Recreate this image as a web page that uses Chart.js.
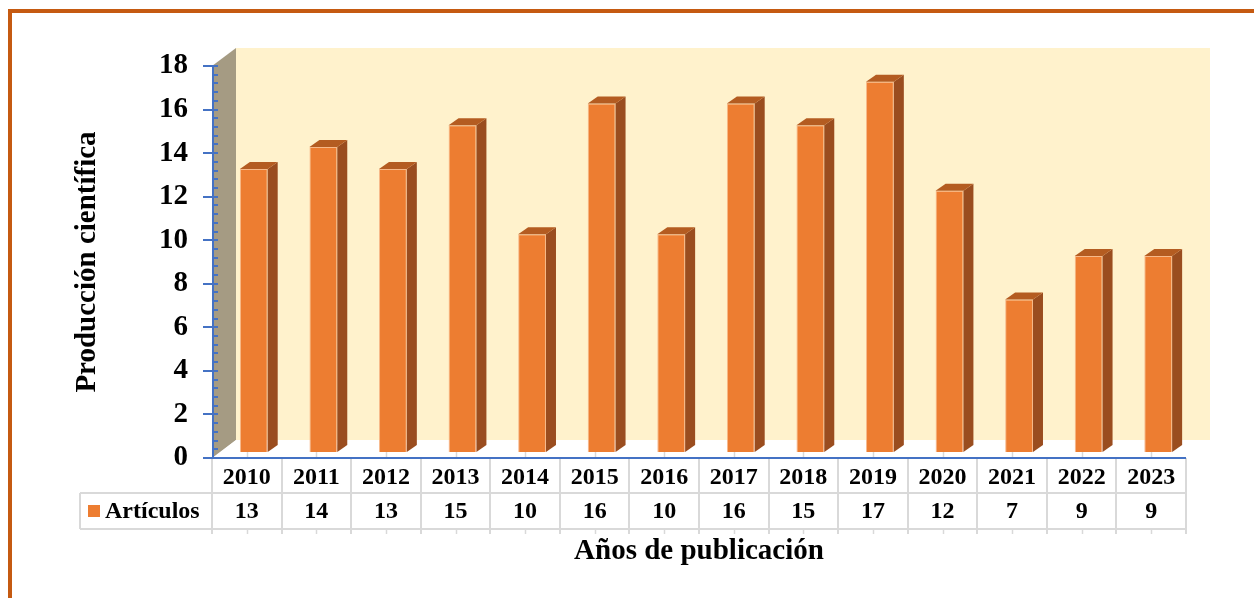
<!DOCTYPE html>
<html>
<head>
<meta charset="utf-8">
<script src="https://cdn.jsdelivr.net/npm/chart.js@4"></script>
<style>
  html, body { margin: 0; padding: 0; background: #ffffff; }
  canvas { display: block; }
</style>
</head>
<body>
<canvas id="c" width="1254" height="598"></canvas>
<script>
// ---- data ----
const years = ['2010','2011','2012','2013','2014','2015','2016','2017','2018','2019','2020','2021','2022','2023'];
const articulos = [13, 14, 13, 15, 10, 16, 10, 16, 15, 17, 12, 7, 9, 9];
const seriesName = 'Artículos';
const yTitle = 'Producción científica';
const xTitle = 'Años de publicación';
const yMin = 0, yMax = 18, yStep = 2, yMinorStep = 0.4;

// ---- style ----
const FONT = '"Liberation Serif", "Times New Roman", serif';
const C_FRONT = '#ED7D31', C_SIDE = '#9A4D1F', C_TOP = '#B45C21';
const C_BACK = '#FFF2CC', C_LEFTWALL = '#A59B83';
const C_AXIS = '#4472C4', C_GRID = '#D9D9D9', C_FRAME = '#C55A11';
const WALL_DX = 24, WALL_DY = -18;   // depth of the walls
const BAR_DX = 7, BAR_DY = -6;       // offset of bar front plane
const BAR_DEPTH_X = 10, BAR_DEPTH_Y = -7;

const plugin3d = {
  id: 'excel3d',
  beforeDraw(chart) {
    const ctx = chart.ctx, a = chart.chartArea;
    ctx.save();
    ctx.fillStyle = '#ffffff';
    ctx.fillRect(0, 0, chart.width, chart.height);
    // frame
    ctx.fillStyle = C_FRAME;
    ctx.fillRect(8, 9, chart.width - 8, 4);
    ctx.fillRect(8, 9, 4, chart.height - 9);
    // back wall
    ctx.fillStyle = C_BACK;
    ctx.fillRect(a.left + WALL_DX, a.top + WALL_DY, a.right - a.left, a.bottom - a.top);
    // left wall
    ctx.fillStyle = C_LEFTWALL;
    ctx.beginPath();
    ctx.moveTo(a.left, a.top);
    ctx.lineTo(a.left + WALL_DX, a.top + WALL_DY);
    ctx.lineTo(a.left + WALL_DX, a.bottom + WALL_DY);
    ctx.lineTo(a.left, a.bottom);
    ctx.closePath();
    ctx.fill();
    // floor (white)
    ctx.fillStyle = '#ffffff';
    ctx.beginPath();
    ctx.moveTo(a.left + 1, a.bottom);
    ctx.lineTo(a.left + WALL_DX, a.bottom + WALL_DY);
    ctx.lineTo(a.right + WALL_DX, a.bottom + WALL_DY);
    ctx.lineTo(a.right, a.bottom);
    ctx.closePath();
    ctx.fill();
    ctx.restore();
  },
  beforeDatasetsDraw(chart) {
    chart.ctx.save();
    chart.ctx.translate(BAR_DX, BAR_DY);
  },
  afterDatasetsDraw(chart) {
    const ctx = chart.ctx;
    const meta = chart.getDatasetMeta(0);
    meta.data.forEach(bar => {
      const p = bar.getProps(['x', 'y', 'base', 'width'], true);
      const l = p.x - p.width / 2, r = p.x + p.width / 2;
      // side
      ctx.fillStyle = C_SIDE;
      ctx.beginPath();
      ctx.moveTo(r, p.y);
      ctx.lineTo(r + BAR_DEPTH_X, p.y + BAR_DEPTH_Y);
      ctx.lineTo(r + BAR_DEPTH_X, p.base + BAR_DEPTH_Y);
      ctx.lineTo(r, p.base);
      ctx.closePath();
      ctx.fill();
      // top
      ctx.fillStyle = C_TOP;
      ctx.beginPath();
      ctx.moveTo(l, p.y);
      ctx.lineTo(l + BAR_DEPTH_X, p.y + BAR_DEPTH_Y);
      ctx.lineTo(r + BAR_DEPTH_X, p.y + BAR_DEPTH_Y);
      ctx.lineTo(r, p.y);
      ctx.closePath();
      ctx.fill();
    });
    ctx.restore();
  },
  afterDraw(chart) {
    const ctx = chart.ctx, a = chart.chartArea;
    const xs = chart.scales.x, ys = chart.scales.y;
    const n = years.length;
    const catW = (a.right - a.left) / n;
    ctx.save();
    // ---- table grid ----
    const rowTop = a.bottom, row1 = 493, row2 = 529, gridEnd = 534;
    ctx.strokeStyle = C_GRID;
    ctx.lineWidth = 2;
    ctx.beginPath();
    for (let i = 0; i <= n; i++) {
      const x = Math.round(a.left + i * catW);
      ctx.moveTo(x, rowTop);
      ctx.lineTo(x, gridEnd);
    }
    ctx.moveTo(80, row1); ctx.lineTo(a.right, row1);
    ctx.moveTo(80, row2); ctx.lineTo(a.right, row2);
    ctx.moveTo(80, row1); ctx.lineTo(80, row2);
    ctx.stroke();
    // small tick marks at category centers
    ctx.lineWidth = 1.5;
    ctx.beginPath();
    for (let i = 0; i < n; i++) {
      const x = Math.round(xs.getPixelForValue(i)) + 0.5;
      ctx.moveTo(x, a.bottom - 6); ctx.lineTo(x, a.bottom);
      ctx.moveTo(x, row2); ctx.lineTo(x, gridEnd);
    }
    ctx.stroke();

    // ---- axes ----
    ctx.fillStyle = C_AXIS;
    ctx.fillRect(a.left, a.bottom - 1, a.right - a.left, 2);
    ctx.fillRect(a.left, a.top, 2, a.bottom - a.top);
    const minorCount = Math.round((yMax - yMin) / yMinorStep);
    for (let k = 0; k <= minorCount; k++) {
      const y = Math.round(ys.getPixelForValue(yMin + k * yMinorStep));
      ctx.fillRect(a.left, y - 1, 6, 2);
    }
    for (let v = yMin; v <= yMax; v += yStep) {
      const y = Math.round(ys.getPixelForValue(v));
      ctx.fillRect(a.left - 9, y - 1, 15, 2);
    }

    // ---- table text ----
    ctx.fillStyle = '#000000';
    ctx.font = 'bold 24px ' + FONT;
    ctx.textAlign = 'center';
    ctx.textBaseline = 'middle';
    for (let i = 0; i < n; i++) {
      const x = xs.getPixelForValue(i);
      ctx.fillText(years[i], x, (rowTop + row1) / 2 + 2);
      ctx.fillText(String(articulos[i]), x, (row1 + row2) / 2 + 1);
    }
    // legend key + series name
    ctx.fillStyle = C_FRONT;
    ctx.fillRect(88, 505, 12, 12);
    ctx.fillStyle = '#000000';
    ctx.textAlign = 'left';
    ctx.fillText(seriesName, 105, (row1 + row2) / 2 + 1);

    // ---- titles ----
    ctx.font = 'bold 29px ' + FONT;
    ctx.textAlign = 'center';
    ctx.fillText(xTitle, (a.left + a.right) / 2, 552);
    ctx.save();
    ctx.translate(88, (a.top + a.bottom) / 2);
    ctx.rotate(-Math.PI / 2);
    ctx.fillText(yTitle, 0, 0);
    ctx.restore();
    ctx.restore();
  }
};

new Chart(document.getElementById('c'), {
  type: 'bar',
  data: {
    labels: years,
    datasets: [{
      label: seriesName,
      data: articulos,
      backgroundColor: C_FRONT,
      borderColor: 'rgba(246,178,130,0.9)',
      borderWidth: 1,
      barPercentage: 0.4,
      categoryPercentage: 1.0
    }]
  },
  options: {
    responsive: false,
    devicePixelRatio: 1,
    animation: false,
    layout: { padding: { top: 66, right: 68, bottom: 140, left: 0 } },
    plugins: { legend: { display: false }, tooltip: { enabled: false } },
    scales: {
      x: { display: false, offset: true },
      y: {
        min: yMin, max: yMax,
        afterFit(s) { s.width = 212; },
        grid: { display: false, drawTicks: false },
        border: { display: false },
        ticks: {
          stepSize: yStep,
          padding: 24,
          color: '#000000',
          font: { family: FONT, size: 29, weight: 'bold' }
        }
      }
    }
  },
  plugins: [plugin3d]
});
</script>
</body>
</html>
